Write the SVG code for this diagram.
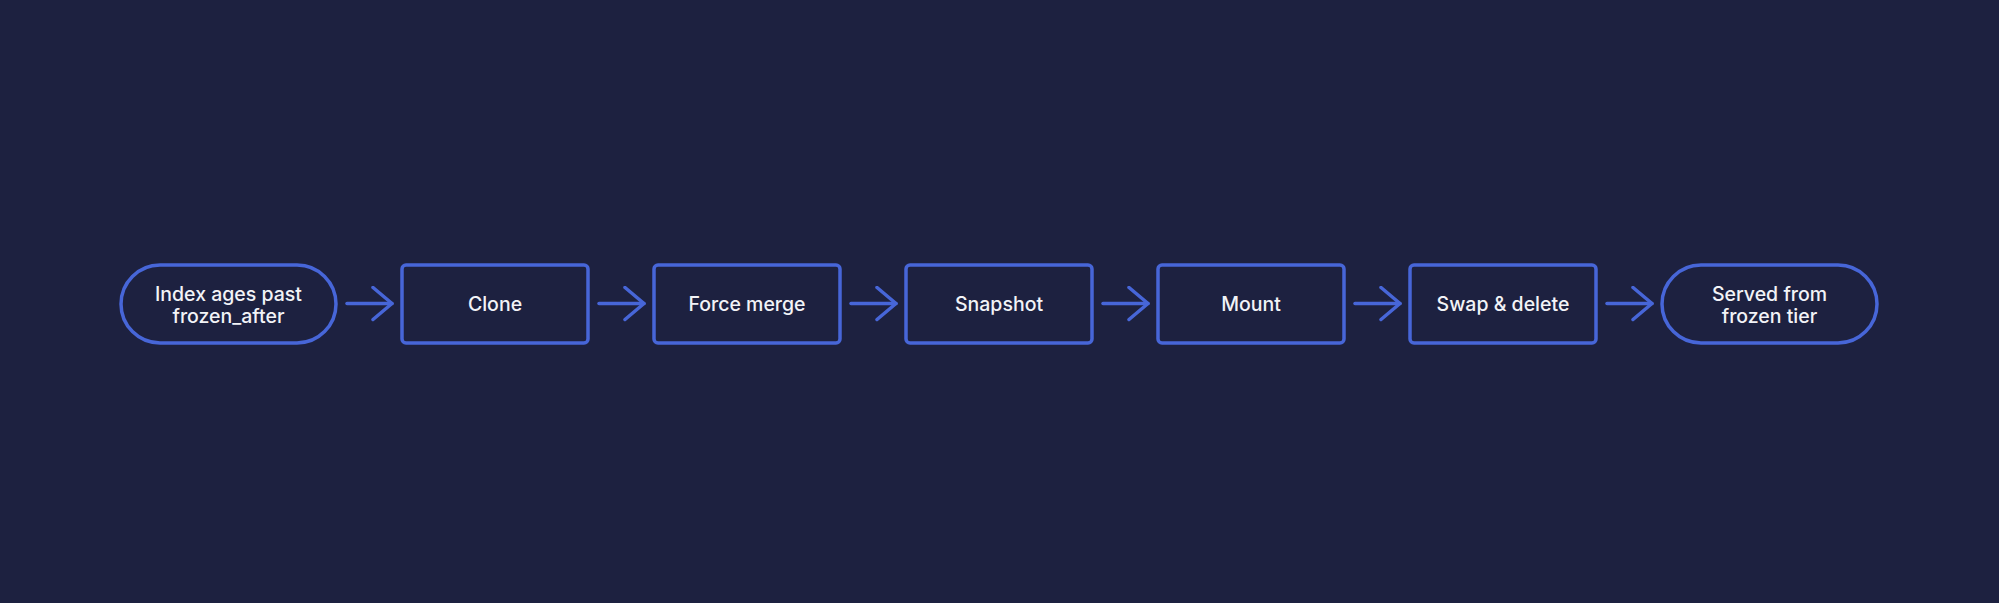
<svg xmlns="http://www.w3.org/2000/svg" width="1999" height="603" viewBox="0 0 1999 603">
<defs>
<style>
.n{fill:#1d2140;stroke:#4766d8;stroke-width:3.5}
.t{fill:#f2f3f7;font-family:Inter,"Noto Sans","Liberation Sans",sans-serif;font-size:19.5px;font-weight:500;text-anchor:middle}
.c{fill:none;stroke:#4766d8;stroke-width:3.5;stroke-linecap:round;stroke-linejoin:round}
</style>
<marker id="ah" markerWidth="24" markerHeight="36" refX="21" refY="18" orient="auto" markerUnits="userSpaceOnUse" viewBox="0 0 24 36">
<path d="M2 2 L21 18 L2 34" fill="none" stroke="#4766d8" stroke-width="3.5" stroke-linecap="round" stroke-linejoin="round"/>
</marker>
</defs>
<rect width="1999" height="603" fill="#1d2140"/>
<g id="connectors">
<line class="c" x1="347" y1="303.5" x2="392" y2="303.5" marker-end="url(#ah)"/>
<line class="c" x1="599" y1="303.5" x2="644" y2="303.5" marker-end="url(#ah)"/>
<line class="c" x1="851" y1="303.5" x2="896" y2="303.5" marker-end="url(#ah)"/>
<line class="c" x1="1103" y1="303.5" x2="1148" y2="303.5" marker-end="url(#ah)"/>
<line class="c" x1="1355" y1="303.5" x2="1400" y2="303.5" marker-end="url(#ah)"/>
<line class="c" x1="1607" y1="303.5" x2="1652" y2="303.5" marker-end="url(#ah)"/>
</g>
<g id="n1"><rect class="n" x="121" y="265" width="215" height="78" rx="39"/><text class="t" x="228.5" y="300.5">Index ages past</text><text class="t" x="228.5" y="322.5">frozen_after</text></g>
<g id="n2"><rect class="n" x="402" y="265" width="186" height="78" rx="4"/><text class="t" x="495" y="311">Clone</text></g>
<g id="n3"><rect class="n" x="654" y="265" width="186" height="78" rx="4"/><text class="t" x="747" y="311">Force merge</text></g>
<g id="n4"><rect class="n" x="906" y="265" width="186" height="78" rx="4"/><text class="t" x="999" y="311">Snapshot</text></g>
<g id="n5"><rect class="n" x="1158" y="265" width="186" height="78" rx="4"/><text class="t" x="1251" y="311">Mount</text></g>
<g id="n6"><rect class="n" x="1410" y="265" width="186" height="78" rx="4"/><text class="t" x="1503" y="311">Swap &amp; delete</text></g>
<g id="n7"><rect class="n" x="1662" y="265" width="215" height="78" rx="39"/><text class="t" x="1769.5" y="300.5">Served from</text><text class="t" x="1769.5" y="322.5">frozen tier</text></g>
</svg>
